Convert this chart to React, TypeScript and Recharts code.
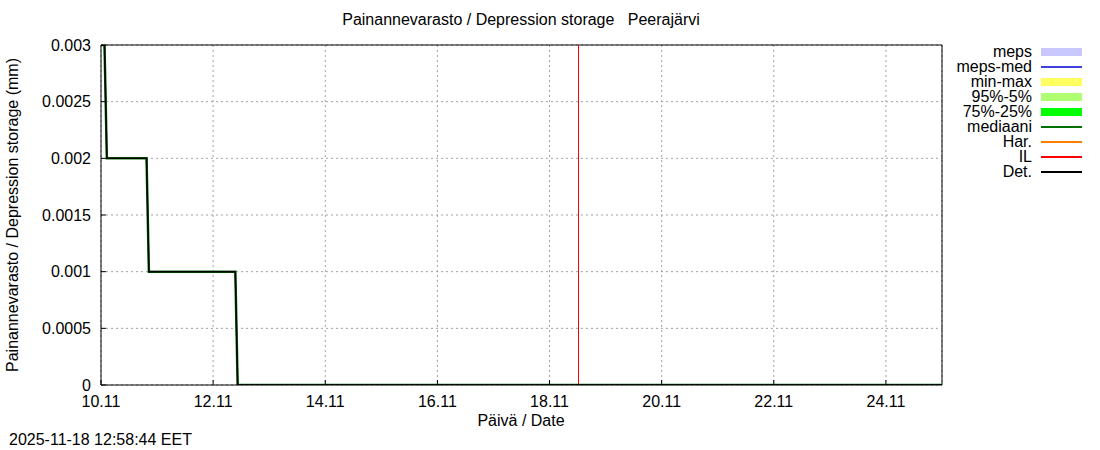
import React from "react";
import { LineChart, Line, XAxis, YAxis, CartesianGrid, ReferenceLine } from "recharts";

// hours since 10.11 00:00
const detHours = [0, 1.5, 2.5, 19.5, 20.5, 57.5, 58.5, 360];
const detValues = [0.003, 0.003, 0.002, 0.002, 0.001, 0.001, 0, 0];
const medianValues = [0.003, 0.003, 0.002, 0.002, 0.001, 0.001, 0, 0];

const xTickHours = [0, 48, 96, 144, 192, 240, 288, 336];
const xTickLabels = ["10.11", "12.11", "14.11", "16.11", "18.11", "20.11", "22.11", "24.11"];
const yTicks = [0, 0.0005, 0.001, 0.0015, 0.002, 0.0025, 0.003];
const yTickLabels = ["0", "0.0005", "0.001", "0.0015", "0.002", "0.0025", "0.003"];
const ilHour = 204.4;

const legendLabels = ["meps", "meps-med", "min-max", "95%-5%", "75%-25%", "mediaani", "Har.", "IL", "Det."];
const legendColors = ["#c8c8ff", "#4040e0", "#ffff60", "#b0ff70", "#00ff00", "#007000", "#ff8000", "#ff0000", "#000000"];
const legendThick = [8, 2, 8, 8, 8, 2, 2, 2, 2];

const data = detHours.map((h, i) => ({ t: h, det: detValues[i], med: medianValues[i] }));

const FONT = "'Liberation Sans', Arial, sans-serif";

export default function App() {
  return (
    <div style={{ position: "absolute", left: 0, top: 0, width: 1100, height: 450, fontFamily: FONT, background: "#fff" }}>
      <LineChart width={1100} height={450} data={data} margin={{ top: 45, right: 158, bottom: 35, left: 11 }}>
        <CartesianGrid stroke="#a0a0a0" strokeDasharray="2 3" />
        <XAxis
          dataKey="t"
          type="number"
          domain={[0, 360]}
          ticks={xTickHours}
          tickFormatter={(v) => xTickLabels[xTickHours.indexOf(v)]}
          height={30}
          stroke="#000"
          tickSize={-5}
          tickMargin={16}
          tick={{ fill: "#000", fontSize: 16, fontFamily: FONT }}
          allowDataOverflow
        />
        <YAxis
          type="number"
          domain={[0, 0.003]}
          ticks={yTicks}
          tickFormatter={(v) => yTickLabels[yTicks.indexOf(v)]}
          width={90}
          stroke="#000"
          tickSize={-5}
          tickMargin={15}
          tick={{ fill: "#000", fontSize: 16, fontFamily: FONT }}
          allowDataOverflow
        />
        <ReferenceLine y={0.003} stroke="#000" strokeWidth={1} />
        <ReferenceLine x={360} stroke="#000" strokeWidth={1} />
        <ReferenceLine x={ilHour} stroke="#ff0000" strokeWidth={1} />
        <Line dataKey="med" stroke="#007000" strokeWidth={2.5} dot={false} isAnimationActive={false} type="linear" />
        <Line dataKey="det" stroke="#000000" strokeWidth={1.5} dot={false} isAnimationActive={false} type="linear" />
      </LineChart>

      <div style={{ position: "absolute", left: 0, width: 1042, top: 11, textAlign: "center", fontSize: 16, whiteSpace: "pre", lineHeight: "18px" }}>
        {"Painannevarasto / Depression storage   Peerajärvi"}
      </div>
      <div style={{ position: "absolute", left: 0, width: 1042, top: 412, textAlign: "center", fontSize: 16, lineHeight: "18px" }}>
        Päivä / Date
      </div>
      <div
        style={{
          position: "absolute",
          left: 13,
          top: 215,
          transform: "translate(-50%, -50%) rotate(-90deg)",
          fontSize: 16,
          whiteSpace: "nowrap",
          lineHeight: "18px",
        }}
      >
        Painannevarasto / Depression storage (mm)
      </div>
      <div style={{ position: "absolute", left: 9, top: 431, fontSize: 16, lineHeight: "18px", whiteSpace: "nowrap" }}>
        2025-11-18 12:58:44 EET
      </div>

      <div style={{ position: "absolute", left: 900, top: 44 }}>
        {legendLabels.map((lab, i) => (
          <div key={lab} style={{ position: "absolute", top: i * 15, left: 0, height: 15, width: 190 }}>
            <div style={{ position: "absolute", right: 58, width: 140, textAlign: "right", fontSize: 16, lineHeight: "15px", whiteSpace: "nowrap", top: 0 }}>
              {lab}
            </div>
            <div
              style={{
                position: "absolute",
                left: 141,
                width: 41,
                top: 8 - legendThick[i] / 2,
                height: legendThick[i],
                background: legendColors[i],
              }}
            />
          </div>
        ))}
      </div>
    </div>
  );
}
